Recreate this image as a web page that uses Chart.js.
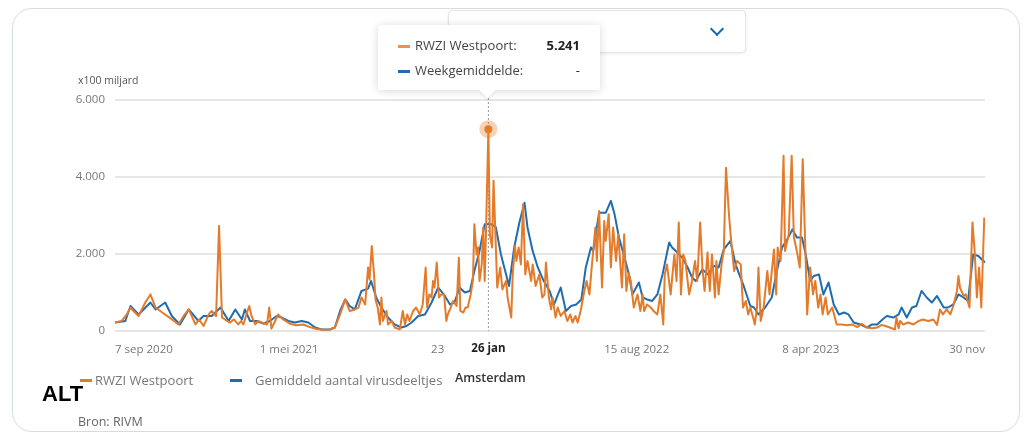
<!DOCTYPE html>
<html lang="nl">
<head>
<meta charset="utf-8">
<title>Rioolwater Amsterdam</title>
<script src="https://cdn.jsdelivr.net/npm/chart.js@4.4.1/dist/chart.umd.min.js"></script>
<style>
  body { margin: 0; background: #fff; font-family: 'Open Sans', sans-serif; }
  #wrap { position: relative; width: 1029px; height: 435px; overflow: hidden; }
  #chart { position: absolute; left: 0; top: 0; }
  .card { position: absolute; left: 12px; top: 8px; width: 1006px; height: 422px;
          border: 1.5px solid #d4dde4; border-radius: 20px; }
  .select { position: absolute; left: 448px; top: 10px; width: 296px; height: 41px; background: #fff;
            border: 1px solid #e4e4e4; border-radius: 4px; box-shadow: 0 1px 3px rgba(0,0,0,.08); }
  .chev { position: absolute; left: 712px; top: 24px; width: 8px; height: 8px;
          border-right: 2px solid #1467a4; border-bottom: 2px solid #1467a4; transform: rotate(45deg); }
  .tip { position: absolute; left: 378px; top: 25px; width: 222px; height: 65px; background: #fff;
         border-radius: 3px; box-shadow: 0 1px 8px rgba(0,0,0,.16); z-index: 2; }
  .tip:after { content: ''; position: absolute; left: 104px; bottom: -6px; width: 11px; height: 11px;
               background: #fff; transform: rotate(45deg); box-shadow: 2px 2px 3px rgba(0,0,0,.07); }
  .row { position: absolute; left: 20px; right: 20px; height: 20px; font-size: 13px; color: #444; line-height: 20px; }
  .row .dash { display: inline-block; width: 12px; height: 3px; vertical-align: middle; margin-right: 5px; }
  .row .val { position: absolute; right: 0; top: 0; font-weight: 700; color: #222; }
  .txt { position: absolute; white-space: nowrap; }
  .leg { position: absolute; top: 379px; width: 12px; height: 3px; }
</style>
</head>
<body>
<div id="wrap">
  <div class="card"></div>
  <div class="select"></div>
  <div class="chev"></div>
  <canvas id="chart" width="1029" height="435"></canvas>

  <div class="tip">
    <div class="row" style="top:10px"><span class="dash" style="background:#e8944a"></span>RWZI Westpoort:<span class="val">5.241</span></div>
    <div class="row" style="top:35px"><span class="dash" style="background:#1f6db0"></span>Weekgemiddelde:<span class="val" style="font-weight:400">-</span></div>
  </div>

  <div class="txt" style="left:78px; top:73px; font-size:10.5px; color:#555;">x100 miljard</div>

  <div class="leg" style="left:80px; background:#e47b2b;"></div>
  <div class="txt" style="left:95px; top:371px; font-size:13px; color:#777;">RWZI Westpoort</div>
  <div class="leg" style="left:230px; background:#1f6db0;"></div>
  <div class="txt" style="left:255px; top:371px; font-size:13px; color:#777;">Gemiddeld aantal virusdeeltjes</div>
  <div class="txt" style="left:455px; top:369px; font-size:12.5px; font-weight:600; color:#333;">Amsterdam</div>
  <div class="txt" style="left:42px; top:381px; font-size:22px; font-weight:700; color:#000; font-family:'Liberation Sans', Arial, sans-serif;">ALT</div>
  <div class="txt" style="left:78px; top:413px; font-size:12.5px; color:#666;">Bron: RIVM</div>
</div>

<script>
// x = dagen sinds 7 sep 2020, y = virusdeeltjes (x100 miljard)
const westpoort = [
  [0,220],[9,260],[16,430],[21,610],[25,520],[32,390],[41,740],[48,950],[55,610],[64,480],[73,360],[80,260],
  [86,170],[93,390],[100,560],[109,170],[114,300],[120,130],[127,430],[131,520],[137,390],[141,2730],[145,350],
  [152,260],[156,220],[161,300],[167,170],[171,260],[174,170],[178,430],[182,650],[185,390],[190,170],[194,260],
  [199,220],[206,170],[209,610],[212,60],[217,260],[221,430],[228,300],[237,190],[246,150],[255,170],[264,100],
  [273,50],[282,30],[291,40],[298,90],[305,430],[312,820],[318,520],[325,560],[330,610],[334,870],[339,690],
  [343,1650],[345,1340],[348,2210],[351,1470],[353,820],[356,610],[359,170],[361,870],[363,260],[368,520],
  [370,170],[375,260],[379,90],[386,40],[390,520],[393,170],[396,430],[399,260],[404,520],[408,610],[413,430],
  [417,690],[421,1650],[423,610],[426,950],[429,870],[431,1300],[433,1130],[436,1780],[439,870],[442,950],
  [446,950],[449,260],[451,430],[455,610],[458,780],[463,650],[466,1900],[468,520],[472,480],[475,610],[478,610],
  [482,950],[485,1300],[487,2770],[490,1990],[492,2170],[494,1300],[497,1730],[499,2690],[501,1300],[503,2770],
  [506,5241],[508,2510],[511,2170],[513,3900],[518,1130],[522,1650],[525,1080],[530,1300],[532,870],[537,350],
  [539,1470],[542,2210],[544,1820],[547,2170],[550,1730],[553,3290],[556,1470],[559,1820],[564,1300],[566,1730],
  [570,1170],[575,1470],[579,870],[582,950],[584,1780],[588,870],[591,560],[593,870],[597,350],[600,610],
  [604,390],[609,520],[613,260],[617,430],[620,220],[624,390],[627,220],[631,520],[636,1040],[639,1300],
  [643,950],[646,1650],[651,2690],[653,1820],[656,3120],[660,1130],[663,2860],[665,2340],[669,3030],[672,1650],
  [675,2690],[679,1820],[682,2510],[687,1130],[690,2510],[693,1040],[696,1500],[699,1300],[703,610],[708,950],
  [712,520],[715,950],[717,520],[721,690],[726,610],[730,520],[735,430],[739,950],[743,170],[745,1470],
  [748,1730],[753,950],[758,1990],[761,1300],[764,2820],[767,950],[770,1990],[773,1820],[778,950],[782,1300],
  [786,1820],[789,1300],[793,2820],[796,1650],[799,1040],[803,2040],[806,1040],[809,1990],[813,870],[815,1820],
  [818,950],[822,1730],[825,2080],[828,4240],[832,3030],[835,2340],[839,1560],[843,1820],[848,1730],[851,610],
  [855,780],[858,430],[861,610],[866,260],[867,170],[870,610],[872,1650],[875,260],[879,610],[884,1560],
  [887,950],[889,1340],[893,2120],[896,950],[898,2170],[902,1820],[906,4550],[908,2080],[913,2510],[917,4550],
  [920,2430],[924,2080],[928,1650],[932,4460],[936,1820],[938,430],[942,1650],[946,950],[949,1300],[953,610],
  [956,950],[959,430],[963,870],[966,430],[972,610],[978,170],[985,170],[992,150],[999,170],[1006,100],
  [1012,190],[1019,90],[1026,70],[1033,90],[1039,160],[1044,130],[1050,90],[1057,40],[1059,350],[1062,70],
  [1064,260],[1068,170],[1075,220],[1082,170],[1089,260],[1095,300],[1102,260],[1109,300],[1114,160],[1118,560],
  [1122,430],[1127,560],[1132,430],[1136,650],[1141,1040],[1143,1430],[1145,1130],[1150,910],[1153,950],
  [1158,610],[1162,2820],[1165,2080],[1168,870],[1171,1650],[1174,610],[1178,2950]
];

const weekgemiddelde = [
  [0,220],[14,260],[21,650],[32,430],[48,740],[55,560],[68,740],[77,390],[88,170],[100,560],[113,260],[120,390],
  [131,390],[143,610],[154,260],[163,560],[172,300],[176,560],[183,260],[192,260],[201,190],[210,260],[219,390],
  [226,350],[235,260],[244,220],[253,260],[262,220],[271,90],[280,40],[291,40],[298,90],[305,520],[312,820],
  [318,650],[325,560],[334,1040],[343,1100],[347,1300],[354,870],[361,610],[370,350],[379,170],[388,90],
  [395,130],[402,220],[411,390],[420,430],[429,740],[438,1130],[447,910],[454,690],[460,740],[467,1130],
  [474,1000],[481,1040],[487,1560],[494,2080],[501,2770],[510,2770],[516,2700],[523,1990],[530,1470],[534,1170],
  [541,2170],[548,2820],[555,3330],[559,2690],[566,2080],[573,1650],[580,1340],[589,1040],[595,690],[604,1130],
  [611,520],[618,650],[625,690],[632,820],[638,1650],[645,2170],[648,2080],[656,3070],[665,3070],[672,3380],
  [677,3030],[683,2430],[692,1800],[697,1430],[701,950],[710,1260],[715,870],[721,820],[728,780],[735,950],
  [742,1470],[751,2300],[755,2170],[762,2040],[769,1900],[776,1650],[782,1390],[787,1300],[796,1600],[803,1470],
  [812,1690],[818,1650],[825,2120],[834,2340],[841,1730],[846,1470],[852,1170],[861,650],[866,610],[872,430],
  [881,610],[890,870],[897,1560],[904,2170],[911,2380],[918,2640],[924,2430],[931,2430],[936,1990],[942,1300],
  [947,1430],[954,1470],[960,950],[967,1260],[974,690],[981,430],[988,480],[994,430],[1001,220],[1010,170],
  [1019,90],[1026,170],[1033,170],[1040,300],[1046,390],[1055,350],[1062,430],[1066,610],[1073,350],[1080,610],
  [1086,650],[1093,1040],[1100,870],[1107,740],[1114,910],[1123,610],[1129,610],[1136,690],[1143,950],[1150,870],
  [1156,780],[1163,1990],[1170,1950],[1179,1780]
];

const tickDays = [0, 236, 472, 707, 943, 1179];
const tickLabels = ['7 sep 2020', '1 mei 2021', '23 dec 2021', '15 aug 2022', '8 apr 2023', '30 nov'];
const gekozenDag = 506;      // 26 jan 2022
const gekozenWaarde = 5241;
const gekozenLabel = '26 jan';

const oranje = '#e47b2b';
const blauw = '#1f6db0';

function fmt(v) {
  return String(v).replace(/\B(?=(\d{3})+(?!\d))/g, '.');
}

const highlight = {
  id: 'highlight',
  beforeDatasetsDraw(chart) {
    const ctx = chart.ctx, x = chart.scales.x.getPixelForValue(gekozenDag);
    ctx.save();
    ctx.strokeStyle = '#9a9a9a';
    ctx.lineWidth = 1;
    ctx.setLineDash([2, 2]);
    ctx.beginPath();
    ctx.moveTo(x, chart.chartArea.top - 6);
    ctx.lineTo(x, chart.chartArea.bottom);
    ctx.stroke();
    ctx.restore();
  },
  afterDatasetsDraw(chart) {
    const ctx = chart.ctx;
    const x = chart.scales.x.getPixelForValue(gekozenDag);
    const y = chart.scales.y.getPixelForValue(gekozenWaarde);
    ctx.save();
    ctx.fillStyle = 'rgba(228,123,43,0.35)';
    ctx.beginPath(); ctx.arc(x, y, 9, 0, Math.PI * 2); ctx.fill();
    ctx.fillStyle = oranje;
    ctx.beginPath(); ctx.arc(x, y, 4, 0, Math.PI * 2); ctx.fill();
    ctx.restore();
  },
  afterDraw(chart) {
    const ctx = chart.ctx, xs = chart.scales.x;
    const x = xs.getPixelForValue(gekozenDag);
    const y = chart.chartArea.bottom + 18;
    ctx.save();
    ctx.font = "11.5px 'Open Sans'";
    const tx = xs.getPixelForValue(tickDays[2]);
    const full = ctx.measureText(tickLabels[2]).width;
    const head = ctx.measureText('23 ').width;
    const left = tx - full / 2 + head;
    ctx.font = "bold 11.5px 'Open Sans'";
    const w = ctx.measureText(gekozenLabel).width;
    ctx.fillStyle = '#fff';
    ctx.fillRect(left, y - 10, x + w / 2 + 6 - left, 20);
    ctx.fillStyle = '#222';
    ctx.textAlign = 'center';
    ctx.textBaseline = 'middle';
    ctx.fillText(gekozenLabel, x, y);
    ctx.restore();
  }
};

new Chart(document.getElementById('chart'), {
  type: 'line',
  data: {
    datasets: [{
      label: 'RWZI Westpoort',
      data: westpoort.map(([x, y]) => ({ x, y })),
      borderColor: oranje,
      borderWidth: 2,
      borderJoinStyle: 'round',
      pointRadius: 0,
      tension: 0
    }, {
      label: 'Gemiddeld aantal virusdeeltjes',
      data: weekgemiddelde.map(([x, y]) => ({ x, y })),
      borderColor: blauw,
      borderWidth: 2,
      borderJoinStyle: 'round',
      pointRadius: 0,
      tension: 0
    }]
  },
  options: {
    responsive: false,
    animation: false,
    devicePixelRatio: 1,
    layout: { padding: { left: 65, right: 44, top: 100, bottom: 74 } },
    plugins: { legend: { display: false }, tooltip: { enabled: false } },
    scales: {
      x: {
        type: 'linear',
        min: 0,
        max: 1179,
        grid: { display: false },
        border: { display: false },
        afterBuildTicks: (scale) => { scale.ticks = tickDays.map(v => ({ value: v })); },
        afterFit: (scale) => { scale.height = 30; },
        ticks: {
          autoSkip: false,
          maxRotation: 0,
          minRotation: 0,
          align: 'inner',
          padding: 4,
          color: '#777',
          font: { family: 'Open Sans', size: 11.5 },
          callback: (v, i) => tickLabels[i]
        }
      },
      y: {
        min: 0,
        max: 6000,
        grid: { color: '#e6e6e6', lineWidth: 2, drawTicks: false },
        border: { display: false },
        afterFit: (scale) => { scale.width = 50; },
        ticks: {
          stepSize: 2000,
          padding: 10,
          color: '#777',
          font: { family: 'Open Sans', size: 11.5 },
          callback: (v) => fmt(v)
        }
      }
    }
  },
  plugins: [highlight]
});
</script>
</body>
</html>
